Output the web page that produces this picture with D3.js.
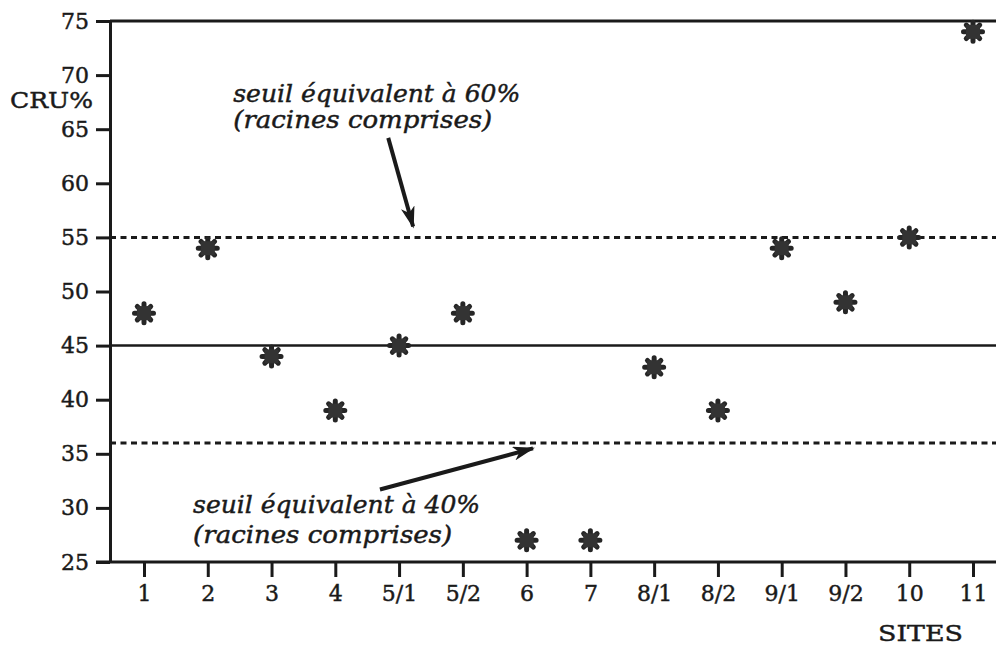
<!DOCTYPE html>
<html>
<head>
<meta charset="utf-8">
<script src="https://cdn.jsdelivr.net/npm/d3@7"></script>
<style>
  body { margin: 0; background: #fff; }
  svg { display: block; }
  text { font-family: 'DejaVu Serif', 'Liberation Serif', serif; fill: #1a1a1a; stroke: #1a1a1a; stroke-width: 0.45px; }
  .ann { font-style: italic; }
</style>
</head>
<body>
<div class="chart"></div>
<script>
// data
const sites = ['1', '2', '3', '4', '5/1', '5/2', '6', '7', '8/1', '8/2', '9/1', '9/2', '10', '11'];
const cru = [48, 54, 44, 39, 45, 48, 27, 27, 43, 39, 54, 49, 55, 74];
const yTicks = [25, 30, 35, 40, 45, 50, 55, 60, 65, 70, 75];
const refLines = [
    { value: 55, dash: true },
    { value: 45, dash: false },
    { value: 36, dash: true }
];
// notes: x in site index, y in CRU% units
const notes = [
    { lines: ['seuil équivalent à 60%', '(racines comprises)'], widths: [287, 259], x: 1.40, y: [67.5, 65.1],
      from: [3.83, 64.2], to: [4.22, 56.0] },
    { lines: ['seuil équivalent à 40%', '(racines comprises)'], widths: [287, 259], x: 0.77, y: [29.5, 26.8],
      from: [3.70, 31.7], to: [6.10, 35.5] }
];

const W = 996, H = 645;
const plotLeft = 110, plotTop = 21, plotBottom = 562;
const firstX = 144, lastX = 973;
const ink = '#1a1a1a';

const svg = d3.select('.chart').append('svg').attr('width', W).attr('height', H);

const x = d3.scalePoint().domain(sites).range([firstX, lastX]).padding(0);
const xi = d3.scaleLinear().domain([0, sites.length - 1]).range([firstX, lastX]);
const y = d3.scaleLinear().domain([25, 75]).range([plotBottom, plotTop]);

// reference lines
svg.selectAll('.ref').data(refLines).enter().append('line')
    .attr('x1', plotLeft).attr('x2', W)
    .attr('y1', d => y(d.value)).attr('y2', d => y(d.value))
    .attr('stroke', ink)
    .attr('stroke-width', d => d.dash ? 3 : 2.5)
    .attr('stroke-dasharray', d => d.dash ? '6,4.5' : null);

// top border
svg.append('line').attr('x1', plotLeft).attr('x2', W)
    .attr('y1', y(75)).attr('y2', y(75))
    .attr('stroke', ink).attr('stroke-width', 3);

// y axis
const yAxis = d3.axisLeft(y).tickValues(yTicks).tickSizeInner(14).tickSizeOuter(0).tickPadding(7);
const yG = svg.append('g').attr('transform', `translate(${plotLeft},0)`).call(yAxis);
yG.select('.domain').attr('stroke', ink).attr('stroke-width', 3);
yG.selectAll('.tick line').attr('stroke', ink).attr('stroke-width', 3);
yG.selectAll('.tick text').attr('font-size', 22).attr('font-family', null).attr('fill', ink);

// x axis
const xAxis = d3.axisBottom(x).tickSizeInner(15).tickSizeOuter(0).tickPadding(8);
const xG = svg.append('g').attr('transform', `translate(0,${plotBottom})`).call(xAxis);
xG.select('.domain').attr('d', `M${plotLeft - 14},0H${W}`).attr('stroke', ink).attr('stroke-width', 3);
xG.selectAll('.tick line').attr('stroke', ink).attr('stroke-width', 3);
xG.selectAll('.tick text').attr('font-size', 22).attr('font-family', null).attr('fill', ink);

// axis titles
svg.append('text').attr('x', 10).attr('y', 108)
    .attr('font-size', 23).attr('textLength', 83).attr('lengthAdjust', 'spacingAndGlyphs')
    .text('CRU%');
svg.append('text').attr('x', 878).attr('y', 641)
    .attr('font-size', 23).attr('textLength', 85).attr('lengthAdjust', 'spacingAndGlyphs')
    .text('SITES');

// markers
function star(size) {
    const p = d3.path();
    for (let k = 0; k < 8; k++) {
        const a = k * Math.PI / 4;
        p.moveTo(0, 0);
        p.lineTo(Math.cos(a) * size, Math.sin(a) * size);
    }
    return p.toString();
}
const pts = svg.selectAll('.pt').data(cru).enter().append('g')
    .attr('class', 'pt')
    .attr('transform', (d, i) => `translate(${x(sites[i])},${y(d)})`);
pts.append('path').attr('d', star(9.5))
    .attr('stroke', '#262626').attr('stroke-width', 5).attr('stroke-linecap', 'round');
pts.append('rect').attr('x', -7).attr('y', -7).attr('width', 14).attr('height', 14)
    .attr('fill', '#333');

// arrows
svg.append('defs').append('marker')
    .attr('id', 'head').attr('viewBox', '0 0 22 14')
    .attr('refX', 20).attr('refY', 7)
    .attr('markerWidth', 22).attr('markerHeight', 14)
    .attr('markerUnits', 'userSpaceOnUse')
    .attr('orient', 'auto')
    .append('path').attr('d', 'M0,0 L22,7 L0,14 L6,7 Z').attr('fill', ink);

svg.selectAll('.arrow').data(notes).enter().append('line')
    .attr('x1', d => xi(d.from[0])).attr('y1', d => y(d.from[1]))
    .attr('x2', d => xi(d.to[0])).attr('y2', d => y(d.to[1]))
    .attr('stroke', ink).attr('stroke-width', 4)
    .attr('marker-end', 'url(#head)');

// annotation text
notes.forEach(n => {
    n.lines.forEach((t, j) => {
        svg.append('text').attr('class', 'ann')
            .attr('x', xi(n.x)).attr('y', y(n.y[j]))
            .attr('font-size', 24)
            .attr('textLength', n.widths[j]).attr('lengthAdjust', 'spacingAndGlyphs')
            .text(t);
    });
});
</script>
</body>
</html>
